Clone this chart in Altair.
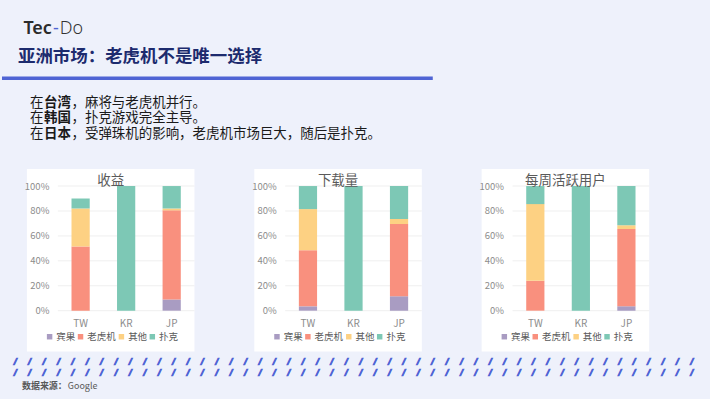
import altair as alt
import pandas as pd

# ---------------- data ----------------
countries = ["TW", "KR", "JP"]
categories = ["宾果", "老虎机", "其他", "扑克"]
colors = ["#a99cc2", "#f9907e", "#fdd183", "#7dc8b5"]

# 收益 (revenue share, %)
rev_bingo = [0, 0, 9]
rev_slots = [51.5, 0, 71.5]
rev_other = [30.5, 0, 1.5]
rev_poker = [8, 100, 18]

# 下载量 (downloads share, %)
dl_bingo = [3.5, 0, 11.5]
dl_slots = [45, 0, 58]
dl_other = [33, 0, 4]
dl_poker = [18.5, 100, 26.5]

# 每周活跃用户 (weekly active users share, %)
wau_bingo = [0, 0, 3.5]
wau_slots = [24, 0, 62]
wau_other = [61.5, 0, 3]
wau_poker = [14.5, 100, 31.5]

y_ticks = [0, 20, 40, 60, 80, 100]
panel_titles = ["收益", "下载量", "每周活跃用户"]

# ---------------- style ----------------
FONT = "Noto Sans CJK SC"
BODY_FONT = "Liberation Sans, Noto Sans CJK SC"
BG = "#eef1fb"
AXIS_GRAY = "#8c8c8c"
TITLE_GRAY = "#5a5a5a"
BLUE = "#4f64d4"
W, H = 137, 125
OX, OY = 56, 186  # absolute position of panel-1 plot origin

one = pd.DataFrame({"a": [0]})


def txt(s, x_abs, y_abs, size, color, weight="normal", font=FONT, align="left", stroke=None):
    kw = dict(text=s, align=align, baseline="middle", fontSize=size, color=color,
              fontWeight=weight, font=font)
    if stroke is not None:
        kw.update(stroke=color, strokeWidth=stroke)
    return alt.Chart(one).mark_text(**kw).encode(
        x=alt.value(x_abs - OX), y=alt.value(y_abs - OY)
    )


def build_df(b, s, o, p):
    rows = []
    for ci, c in enumerate(countries):
        for k, (cat, vals) in enumerate(zip(categories, [b, s, o, p])):
            rows.append({"country": c, "category": cat, "value": vals[ci], "ord": k})
    return pd.DataFrame(rows)


def y_axis():
    return alt.Axis(title=None, values=y_ticks, labelExpr="datum.value + '%'",
                    grid=False, ticks=False, domain=False, labelPadding=9,
                    labelFontSize=9.5, labelColor=AXIS_GRAY, labelFont=FONT,
                    zindex=1)


def panel(title, b, s, o, p, extra=()):
    df = build_df(b, s, o, p)
    white = alt.Chart(one).mark_rect(color="white").encode(
        x=alt.value(-31), x2=alt.value(W), y=alt.value(-17), y2=alt.value(166)
    )
    grid = alt.Chart(pd.DataFrame({"value": y_ticks})).mark_rule(
        color="#efefef", strokeWidth=1
    ).encode(y=alt.Y("value:Q", scale=alt.Scale(domain=[0, 100]), axis=y_axis()))
    bars = alt.Chart(df).mark_bar().encode(
        x=alt.X(
            "country:N",
            sort=countries,
            scale=alt.Scale(paddingInner=0.6, paddingOuter=0.3),
            axis=alt.Axis(title=None, labelAngle=0, ticks=False, domain=False,
                          labelPadding=8, labelFontSize=10, labelColor=AXIS_GRAY,
                          labelFont=FONT, zindex=1),
        ),
        y=alt.Y("value:Q", stack="zero", scale=alt.Scale(domain=[0, 100]), axis=y_axis()),
        color=alt.Color(
            "category:N",
            scale=alt.Scale(domain=categories, range=colors),
            legend=alt.Legend(title=None, orient="none", legendX=-13, legendY=146,
                              direction="horizontal", symbolType="square",
                              symbolSize=30, symbolStrokeWidth=0, labelFontSize=9.5,
                              labelColor=TITLE_GRAY, labelFont=FONT,
                              columnPadding=-2, labelOffset=2, padding=0),
        ),
        order=alt.Order("ord:Q", sort="ascending"),
    )
    ttl = alt.Chart(one).mark_text(
        text=title, align="center", baseline="middle", fontSize=13.5,
        color=TITLE_GRAY, font=FONT
    ).encode(x=alt.value((-31 + W) / 2), y=alt.value(-5))
    return alt.layer(*extra, white, grid, bars, ttl).properties(width=W, height=H)


# ---------------- slide decorations (in panel-1 coordinates) ----------------
bg = alt.Chart(one).mark_rect(color=BG).encode(
    x=alt.value(-OX), x2=alt.value(710 - OX), y=alt.value(-OY), y2=alt.value(399 - OY)
)
rule = alt.Chart(one).mark_rule(color=BLUE, strokeWidth=3.5).encode(
    x=alt.value(0 - OX), x2=alt.value(432 - OX), y=alt.value(78 - OY)
)

fs = 13.5
body = []
lines = [
    ("在", "台湾", "，麻将与老虎机并行。", 102.5),
    ("在", "韩国", "，扑克游戏完全主导。", 118),
    ("在", "日本", "，受弹珠机的影响，老虎机市场巨大，随后是扑克。", 134),
]
for a, bword, rest, yy in lines:
    body.append(txt(a, 28, yy, fs, "#1a1a1a", font=BODY_FONT))
    body.append(txt(bword, 28 + fs + 0.6, yy, fs, "#1a1a1a", weight="bold", font=BODY_FONT))
    body.append(txt(rest, 28 + 3 * fs + 1.2, yy, fs, "#1a1a1a", font=BODY_FONT))

slashes = "/\u00a0\u00a0" * 48
deco = [
    bg,
    txt("Tec", 50, 29, 18, "#2b2b2b", weight=600, font="Noto Sans", align="right"),
    txt("-", 54, 29, 18, BLUE, font="Noto Sans", align="center"),
    txt("Do", 58, 29, 18, "#333333", weight=300, font="Noto Sans"),
    txt("亚洲市场：老虎机不是唯一选择", 16, 57, 17.5, "#1d2b6e", weight="bold"),
    rule,
    *body,
    txt(slashes, 11, 362, 8, BLUE, weight="bold", font="DejaVu Sans Mono", stroke=1.1),
    txt(slashes, 11, 373, 8, BLUE, weight="bold", font="DejaVu Sans Mono", stroke=1.1),
    txt("数据来源：", 20, 387, 9, "#595959", weight="bold"),
    txt("Google", 66, 387, 9, "#595959"),
]

p1 = panel(panel_titles[0], rev_bingo, rev_slots, rev_other, rev_poker, extra=deco)
p2 = panel(panel_titles[1], dl_bingo, dl_slots, dl_other, dl_poker)
p3 = panel(panel_titles[2], wau_bingo, wau_slots, wau_other, wau_poker)

chart = (
    alt.hconcat(p1, p2, p3, spacing=91, bounds="flush")
    .resolve_scale(color="independent")
    .resolve_legend(color="independent")
    .properties(padding=0, background=BG)
    .configure_view(strokeWidth=0)
)

chart.save("out.html", embed_options={"renderer": "svg", "actions": False})
